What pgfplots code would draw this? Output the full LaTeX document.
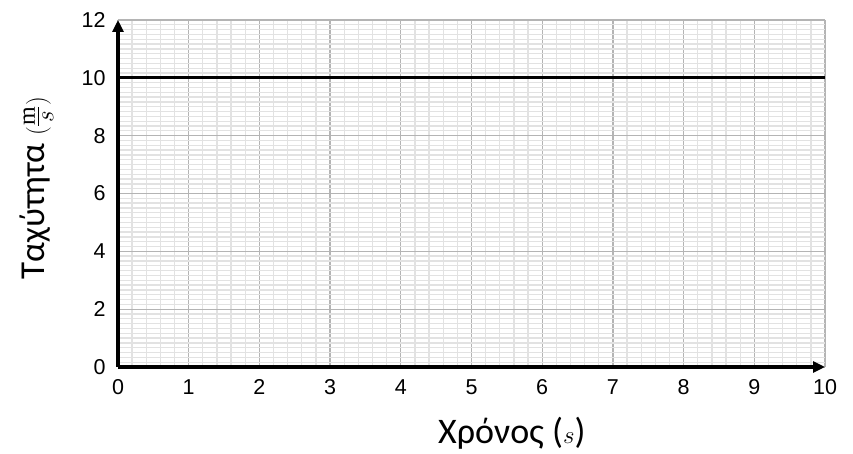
\documentclass[border=0pt]{standalone}
\usepackage{fontspec}
\setmainfont{Liberation Sans}
\newfontfamily\labelfont{Carlito}
\newfontfamily\serifm{Liberation Serif}
\usepackage{pgfplots}
\pgfplotsset{compat=1.18}
\usetikzlibrary{arrows.meta,calc}
\definecolor{majgrid}{RGB}{180,180,180}
\definecolor{mingrid}{RGB}{226,226,226}
\newcommand{\tickfont}{\fontsize{21.5}{23}\selectfont}
\begin{document}
\begin{tikzpicture}
\begin{axis}[
  name=ax,
  scale only axis,
  width=707pt, height=347pt,
  xmin=0, xmax=10, ymin=0, ymax=12,
  xtick={0,1,...,10}, ytick={0,2,...,12},
  minor x tick num=4, minor y tick num=11,
  grid=both,
  major grid style={majgrid, line width=1.3pt},
  minor grid style={mingrid, line width=1.3pt},
  axis lines=left,
  axis line style={black, line width=3.3pt},
  x axis line style={-{Triangle[length=12pt,width=11pt]}},
  y axis line style={-{Triangle[length=12pt,width=11pt]}},
  major tick length=0pt, minor tick length=0pt,
  /pgf/number format/assume math mode=true,
  xticklabels={\tickfont 0,\tickfont 1,\tickfont 2,\tickfont 3,\tickfont 4,\tickfont 5,\tickfont 6,\tickfont 7,\tickfont 8,\tickfont 9,\tickfont 10},
  yticklabels={\tickfont 0,\tickfont 2,\tickfont 4,\tickfont 6,\tickfont 8,\tickfont 10,\tickfont 12},
  xticklabel style={yshift=-9pt},
  yticklabel style={xshift=-9pt},
  xlabel={\labelfont Χρόνος ($s$)},
  ylabel={\labelfont Ταχύτητα $\biggl(\frac{\mbox{\fontsize{24}{26}\serifm m}}{s}\biggr)$},
  xlabel style={font=\fontsize{36}{40}\selectfont, at={(axis description cs:0.557,-0.19)}, anchor=center},
  ylabel style={font=\fontsize{35}{40}\selectfont, at={(axis description cs:-0.115,0.515)}, anchor=center, rotate=0},
  clip=false,
]
\addplot[black, line width=3.3pt] coordinates {(0,10) (10,10)};
\end{axis}
\path[use as bounding box] ($(ax.south west)+(-118pt,-87pt)$) rectangle ($(ax.north east)+(28pt,20pt)$);
\end{tikzpicture}
\end{document}
